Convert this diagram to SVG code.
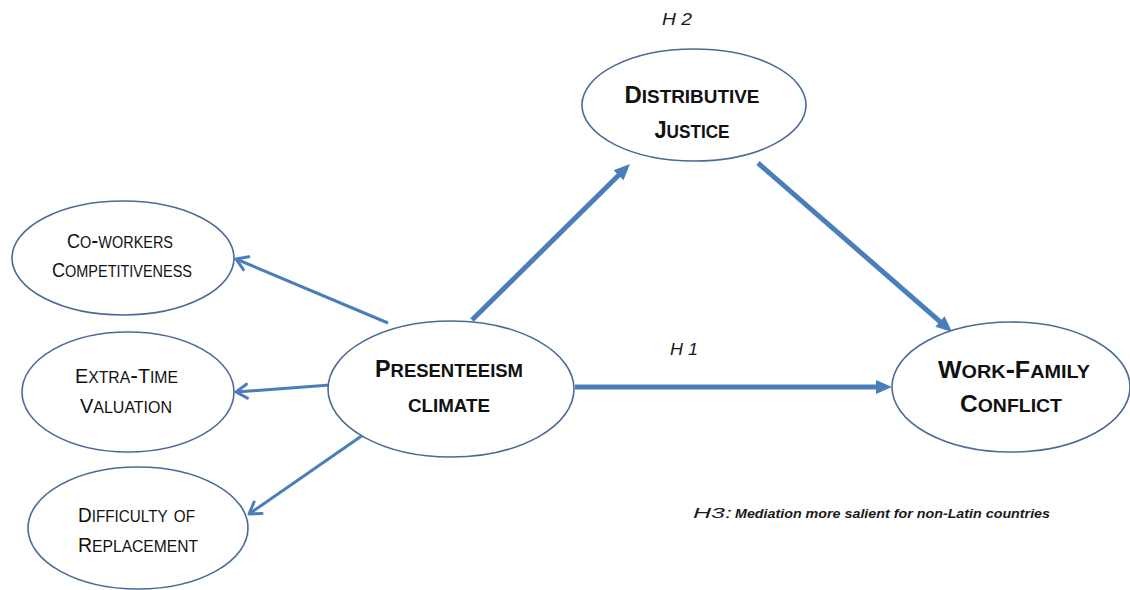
<svg xmlns="http://www.w3.org/2000/svg" width="1130" height="590" viewBox="0 0 1130 590">
<style>
  .node ellipse { fill: #ffffff; stroke: #4b6a96; stroke-width: 1.6; }
  .lbl { font-family: "Liberation Sans", Arial, sans-serif; font-variant: small-caps; fill: #111111; text-anchor: middle; font-size: 20px; }
  .lbl .sc { font-size: 23.5px; }
  .big { font-weight: bold; font-size: 24px; }
  .big .sc { font-size: 26.5px; }
  .h { font-family: "Liberation Sans", Arial, sans-serif; font-style: italic; fill: #1a1a1a; }
  .thin { stroke: #4a7ebb; stroke-width: 3; fill: none; marker-end: url(#open); }
  .thick { stroke: #4a7ebb; stroke-width: 5; fill: none; marker-end: url(#solid); }
</style>
<defs>
  <marker id="open" markerUnits="userSpaceOnUse" markerWidth="18" markerHeight="18" viewBox="0 0 18 18" refX="15" refY="9" orient="auto">
    <path d="M4,2 L15,9 L4,16" fill="none" stroke="#4a7ebb" stroke-width="3" stroke-linecap="round" stroke-linejoin="round"/>
  </marker>
  <marker id="solid" markerUnits="userSpaceOnUse" markerWidth="20" markerHeight="20" viewBox="0 0 20 20" refX="12" refY="10" orient="auto">
    <path d="M2,3 L18,10 L2,17 Z" fill="#4a7ebb"/>
  </marker>
</defs>
<rect width="1130" height="590" fill="#ffffff"/>

<g id="connectors">
  <line class="thin" x1="388" y1="323" x2="236" y2="259"/>
  <line class="thin" x1="330" y1="385" x2="236" y2="392"/>
  <line class="thin" x1="363" y1="435" x2="249" y2="514"/>
  <line class="thick" x1="472" y1="320" x2="625.7" y2="168.2"/>
  <line class="thick" x1="758" y1="163" x2="947.5" y2="328.1"/>
  <line class="thick" x1="575" y1="387" x2="886" y2="387"/>
</g>

<g id="co-workers" class="node">
  <ellipse cx="123" cy="258" rx="111" ry="57"/>
  <text class="lbl" x="120" y="248" textLength="106" lengthAdjust="spacingAndGlyphs">C<tspan class="sc">o-workers</tspan></text>
  <text class="lbl" x="122" y="277" textLength="140" lengthAdjust="spacingAndGlyphs">C<tspan class="sc">ompetitiveness</tspan></text>
</g>
<g id="extra-time" class="node">
  <ellipse cx="128" cy="392" rx="106" ry="60"/>
  <text class="lbl" x="126.5" y="383" textLength="103" lengthAdjust="spacingAndGlyphs">E<tspan class="sc">xtra-</tspan>T<tspan class="sc">ime</tspan></text>
  <text class="lbl" x="126" y="413" textLength="92" lengthAdjust="spacingAndGlyphs">V<tspan class="sc">aluation</tspan></text>
</g>
<g id="difficulty" class="node">
  <ellipse cx="138" cy="528" rx="110" ry="61"/>
  <text class="lbl" x="136.5" y="522" textLength="117" lengthAdjust="spacingAndGlyphs">D<tspan class="sc">ifficulty of</tspan></text>
  <text class="lbl" x="138" y="552" textLength="120" lengthAdjust="spacingAndGlyphs">R<tspan class="sc">eplacement</tspan></text>
</g>
<g id="presenteeism" class="node">
  <ellipse cx="451" cy="389" rx="123" ry="68"/>
  <text class="lbl big" x="449" y="377" textLength="148" lengthAdjust="spacingAndGlyphs">P<tspan class="sc">resenteeism</tspan></text>
  <text class="lbl big" x="449" y="412" textLength="82" lengthAdjust="spacingAndGlyphs"><tspan class="sc">climate</tspan></text>
</g>
<g id="distributive" class="node">
  <ellipse cx="694" cy="105" rx="112" ry="56"/>
  <text class="lbl big" x="692" y="103" textLength="135" lengthAdjust="spacingAndGlyphs">D<tspan class="sc">istributive</tspan></text>
  <text class="lbl big" x="692" y="138" textLength="75" lengthAdjust="spacingAndGlyphs">J<tspan class="sc">ustice</tspan></text>
</g>
<g id="work-family" class="node">
  <ellipse cx="1011" cy="387" rx="119" ry="65"/>
  <text class="lbl big" x="1014" y="378" textLength="152" lengthAdjust="spacingAndGlyphs">W<tspan class="sc">ork-</tspan>F<tspan class="sc">amily</tspan></text>
  <text class="lbl big" x="1011" y="412" textLength="102" lengthAdjust="spacingAndGlyphs">C<tspan class="sc">onflict</tspan></text>
</g>

<g id="labels">
  <text class="h" x="662" y="25" font-size="17" textLength="30" lengthAdjust="spacingAndGlyphs">H 2</text>
  <text class="h" x="670" y="355" font-size="17" textLength="28" lengthAdjust="spacingAndGlyphs">H 1</text>
  <text class="h" x="693" y="518" font-size="15" textLength="39" lengthAdjust="spacingAndGlyphs">H3:</text>
  <text class="h" x="735" y="518" font-size="12.5" font-weight="bold" textLength="315" lengthAdjust="spacingAndGlyphs">Mediation more salient for non-Latin countries</text>
</g>
</svg>
